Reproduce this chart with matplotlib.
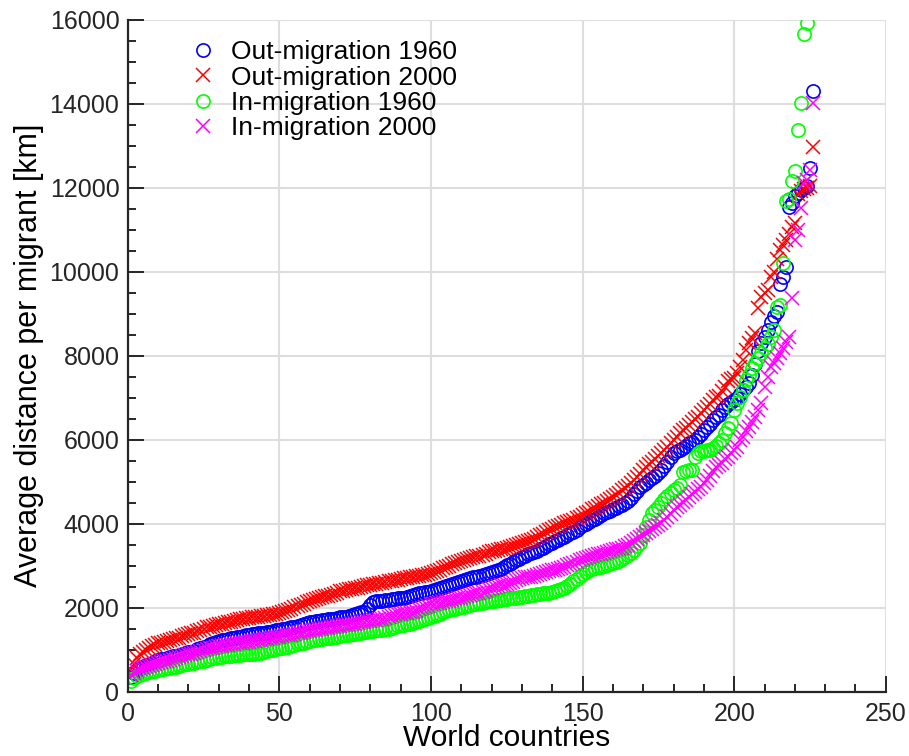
import numpy as np
import matplotlib
matplotlib.use("Agg")
import matplotlib.pyplot as plt

plt.rcParams['font.family'] = ['Liberation Sans', 'DejaVu Sans']

# average distance per migrant [km], countries sorted ascending
out_1960 = [
    350, 450, 520, 560, 600, 630, 660, 690, 720, 750,
    770, 790, 800, 820, 840, 860, 880, 900, 920, 940,
    950, 980, 1010, 1040, 1070, 1100, 1130, 1160, 1190, 1210,
    1220, 1230, 1250, 1270, 1290, 1300, 1310, 1330, 1350, 1360,
    1370, 1380, 1390, 1400, 1410, 1420, 1430, 1450, 1460, 1480,
    1490, 1500, 1510, 1530, 1550, 1570, 1590, 1610, 1630, 1650,
    1670, 1680, 1690, 1700, 1710, 1720, 1730, 1740, 1760, 1770,
    1780, 1790, 1810, 1830, 1850, 1870, 1890, 1900, 1980, 2060,
    2140, 2150, 2160, 2170, 2180, 2190, 2200, 2210, 2220, 2230,
    2240, 2250, 2270, 2300, 2320, 2340, 2350, 2370, 2380, 2400,
    2420, 2440, 2460, 2490, 2510, 2540, 2560, 2580, 2610, 2640,
    2660, 2680, 2700, 2720, 2740, 2760, 2780, 2800, 2830, 2860,
    2880, 2900, 2930, 2970, 3010, 3050, 3090, 3130, 3170, 3210,
    3240, 3270, 3300, 3330, 3360, 3400, 3430, 3470, 3510, 3550,
    3590, 3620, 3650, 3690, 3730, 3770, 3810, 3860, 3910, 3960,
    4000, 4040, 4080, 4120, 4160, 4210, 4250, 4280, 4310, 4340,
    4370, 4410, 4450, 4490, 4550, 4620, 4700, 4790, 4880, 4930,
    4980, 5030, 5080, 5130, 5200, 5280, 5370, 5470, 5580, 5680,
    5720, 5760, 5810, 5860, 5910, 5950, 5990, 6060, 6140, 6220,
    6300, 6380, 6470, 6530, 6600, 6700, 6780, 6850, 6900, 6950,
    7000, 7100, 7180, 7250, 7350, 7550, 7800, 8100, 8300, 8450,
    8600, 8800, 8950, 9050, 9700, 9880, 10100, 11550, 11630, 11790,
    11870, 11950, 12000, 12050, 12460, 14310,
]

out_2000 = [
    520, 650, 800, 900, 950, 1000, 1040, 1080, 1110, 1150,
    1170, 1190, 1210, 1230, 1250, 1270, 1290, 1320, 1350, 1370,
    1390, 1410, 1440, 1470, 1500, 1530, 1550, 1570, 1590, 1610,
    1620, 1630, 1650, 1670, 1690, 1700, 1720, 1740, 1750, 1760,
    1770, 1780, 1790, 1800, 1810, 1820, 1830, 1840, 1860, 1870,
    1900, 1930, 1950, 1980, 2010, 2040, 2070, 2100, 2130, 2160,
    2180, 2200, 2220, 2250, 2270, 2290, 2310, 2330, 2360, 2390,
    2410, 2420, 2440, 2450, 2470, 2480, 2500, 2510, 2530, 2540,
    2560, 2570, 2580, 2600, 2610, 2630, 2640, 2660, 2670, 2690,
    2700, 2710, 2730, 2740, 2750, 2760, 2780, 2790, 2810, 2820,
    2850, 2880, 2910, 2940, 2970, 3000, 3030, 3060, 3090, 3120,
    3140, 3160, 3180, 3200, 3220, 3240, 3260, 3290, 3320, 3340,
    3360, 3370, 3390, 3410, 3430, 3450, 3470, 3490, 3520, 3550,
    3570, 3590, 3610, 3640, 3680, 3720, 3760, 3800, 3840, 3880,
    3910, 3950, 3980, 4010, 4040, 4070, 4100, 4130, 4170, 4200,
    4250, 4290, 4340, 4380, 4420, 4460, 4500, 4550, 4600, 4640,
    4690, 4740, 4800, 4850, 4900, 4960, 5030, 5110, 5190, 5280,
    5360, 5420, 5480, 5550, 5610, 5680, 5750, 5830, 5910, 5990,
    6070, 6150, 6220, 6290, 6360, 6420, 6490, 6550, 6630, 6700,
    6780, 6860, 6940, 7020, 7050, 7150, 7250, 7400, 7440, 7470,
    7580, 7740, 7900, 8140, 8300, 8410, 8550, 9130, 9400, 9500,
    9560, 9880, 10000, 10300, 10520, 10640, 10750, 10900, 11070, 11150,
    11850, 11920, 11960, 12000, 12050, 12980,
]

in_1960 = [
    250, 330, 380, 410, 430, 450, 470, 490, 505, 520,
    530, 540, 555, 570, 585, 600, 620, 640, 655, 670,
    680, 690, 700, 720, 740, 760, 780, 800, 810, 820,
    830, 840, 850, 860, 870, 875, 880, 890, 895, 900,
    905, 910, 915, 930, 950, 970, 990, 1005, 1020, 1040,
    1050, 1060, 1070, 1090, 1110, 1130, 1150, 1170, 1190, 1210,
    1230, 1240, 1250, 1260, 1270, 1280, 1290, 1300, 1315, 1330,
    1340, 1350, 1360, 1370, 1385, 1400, 1410, 1420, 1430, 1445,
    1455, 1465, 1470, 1480, 1490, 1500, 1520, 1540, 1560, 1580,
    1595, 1610, 1620, 1630, 1650, 1680, 1710, 1740, 1760, 1780,
    1800, 1830, 1860, 1890, 1920, 1940, 1960, 1980, 2000, 2010,
    2020, 2040, 2060, 2080, 2100, 2110, 2120, 2140, 2150, 2160,
    2170, 2180, 2190, 2200, 2210, 2220, 2230, 2240, 2250, 2260,
    2280, 2290, 2300, 2310, 2320, 2330, 2340, 2350, 2360, 2380,
    2400, 2420, 2450, 2480, 2520, 2570, 2630, 2690, 2750, 2800,
    2850, 2890, 2920, 2950, 2970, 2980, 3000, 3020, 3040, 3060,
    3090, 3120, 3160, 3200, 3250, 3300, 3380, 3460, 3530, 3730,
    3930, 4100, 4250, 4330, 4400, 4500, 4600, 4660, 4720, 4800,
    4860, 4920, 5240, 5260, 5270, 5280, 5600, 5680, 5720, 5740,
    5750, 5760, 5800, 5850, 5910, 6000, 6150, 6270, 6390, 6710,
    6870, 7020, 7180, 7420, 7540, 7700, 7820, 7940, 8060, 8180,
    8290, 8450, 8610, 9170, 9210, 10200, 11680, 11720, 12160, 12400,
    13370, 14010, 15660, 15930,
]

in_2000 = [
    400, 450, 500, 530, 560, 590, 610, 630, 655, 680,
    700, 720, 740, 760, 780, 800, 820, 845, 870, 890,
    910, 930, 950, 970, 990, 1010, 1030, 1050, 1070, 1090,
    1100, 1110, 1120, 1130, 1140, 1150, 1160, 1170, 1180, 1195,
    1205, 1215, 1230, 1240, 1250, 1260, 1270, 1280, 1295, 1310,
    1325, 1340, 1350, 1360, 1375, 1390, 1405, 1420, 1440, 1455,
    1470, 1480, 1490, 1500, 1510, 1520, 1530, 1545, 1560, 1575,
    1585, 1590, 1600, 1610, 1620, 1635, 1650, 1665, 1680, 1690,
    1700, 1710, 1720, 1740, 1760, 1780, 1800, 1820, 1840, 1860,
    1870, 1880, 1890, 1900, 1930, 1960, 1990, 2020, 2050, 2080,
    2095, 2110, 2120, 2135, 2150, 2165, 2180, 2200, 2220, 2240,
    2260, 2280, 2300, 2320, 2340, 2360, 2380, 2410, 2440, 2470,
    2490, 2510, 2530, 2550, 2570, 2590, 2620, 2650, 2680, 2710,
    2720, 2730, 2740, 2760, 2780, 2800, 2820, 2850, 2870, 2890,
    2910, 2930, 2950, 2980, 3010, 3040, 3070, 3100, 3130, 3160,
    3190, 3210, 3230, 3250, 3270, 3290, 3310, 3330, 3350, 3370,
    3390, 3410, 3430, 3460, 3490, 3530, 3580, 3630, 3680, 3720,
    3770, 3820, 3870, 3920, 3960, 4010, 4080, 4160, 4240, 4330,
    4390, 4450, 4510, 4570, 4640, 4700, 4760, 4820, 4880, 4960,
    5050, 5140, 5250, 5360, 5400, 5450, 5550, 5600, 5680, 5760,
    5830, 5990, 6070, 6200, 6310, 6430, 6550, 6710, 6870, 7260,
    7500, 7740, 7820, 7940, 8060, 8180, 8330, 8450, 9370, 10750,
    10990, 11510, 12100, 12180, 12420, 14010,
]

series = [
    (out_1960, 'o', (0, 0, 1), 'Out-migration 1960'),
    (out_2000, 'x', (1, 0, 0), 'Out-migration 2000'),
    (in_1960, 'o', (0, 1, 0), 'In-migration 1960'),
    (in_2000, 'x', (1, 0, 1), 'In-migration 2000'),
]

fig = plt.figure(figsize=(9.09, 7.56), dpi=100)
ax = fig.add_axes([0.1405, 0.085, 0.834, 0.889])

for vals, mk, col, lab in series:
    x = np.arange(1, len(vals) + 1)
    if mk == 'o':
        ax.plot(x, vals, 'o', ms=9.5, mfc='none', mec=col, mew=1.2, label=lab)
    else:
        ax.plot(x, vals, 'x', ms=9.5, color=col, mew=1.1, label=lab)

ax.set_xlim(0, 250)
ax.set_ylim(0, 16000)
ax.set_xticks(np.arange(0, 251, 50))
ax.set_yticks(np.arange(0, 16001, 2000))
ax.set_xticks(np.arange(0, 251, 10), minor=True)
ax.set_yticks(np.arange(0, 16001, 500), minor=True)

ax.grid(True, which='major', color='#dedede', lw=1.5)
ax.set_axisbelow(True)
for s in ['top', 'right']:
    ax.spines[s].set_visible(False)
for s in ['left', 'bottom']:
    ax.spines[s].set_linewidth(1.6)
    ax.spines[s].set_color('#262626')

ax.tick_params(which='both', direction='in', color='#262626', width=1.4,
               labelsize=18, labelcolor='#262626')
ax.tick_params(which='major', length=11.5)
ax.tick_params(which='minor', length=6)
ax.tick_params(axis='x', pad=7.5)
ax.tick_params(axis='y', pad=6)

ax.set_xlabel('World countries', fontsize=21.5, labelpad=-1.5)
ax.set_ylabel('Average distance per migrant [km]', fontsize=22, labelpad=4)

leg = ax.legend(loc='upper left', bbox_to_anchor=(0.065, 0.985), frameon=False,
                fontsize=19, labelspacing=0.05, handletextpad=0.45,
                handlelength=1.2, borderaxespad=0)

fig.savefig('out.png', dpi=100)
